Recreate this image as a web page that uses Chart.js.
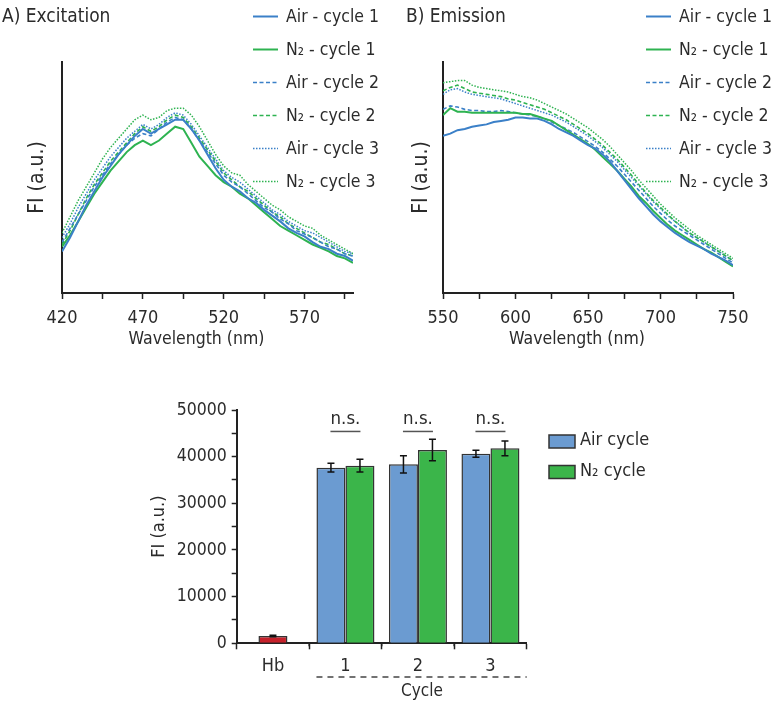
<!DOCTYPE html>
<html>
<head>
<meta charset="utf-8">
<title>Excitation / Emission / Cycle</title>
<script src="https://cdn.jsdelivr.net/npm/chart.js@4.4.0/dist/chart.umd.min.js"></script>
<style>
  body { margin: 0; background: #fff; }
  #wrap { position: relative; width: 774px; height: 708px; }
  canvas { position: absolute; }
  #exChart { left: 0; top: 0; }
  #emChart { left: 385px; top: 0; }
  #barChart { left: 140px; top: 380px; }
</style>
</head>
<body>
<div id="wrap">
  <canvas id="exChart" width="385" height="360"></canvas>
  <canvas id="emChart" width="389" height="360"></canvas>
  <canvas id="barChart" width="634" height="328"></canvas>
</div>
<script>
'use strict'

// Data - panel A (excitation), wavelength in nm, FI in arbitrary units

let exWave = [420, 425, 430, 435, 440, 445, 450, 455, 460, 465, 470, 475, 480, 485, 490, 495, 500, 505, 510,
  515, 520, 525, 530, 535, 540, 545, 550, 555, 560, 565, 570, 575, 580, 585, 590, 595, 600];
let exTicks = [420, 445, 470, 495, 520, 545, 570, 595];
let exLabels = [420, 470, 520, 570];

let exAir1 = [18, 24, 31, 38, 44, 50, 55, 60, 64, 68, 71, 69, 71, 73, 75, 75, 71, 66, 60,
  54, 49, 46, 44, 41, 39, 36, 33.5, 31, 28, 26, 24.5, 22, 20, 19, 17, 16, 14];
let exN2_1 = [20, 25, 31, 37, 43, 48, 53, 57, 61, 64, 66, 64, 66, 69, 72, 71, 65, 59, 55,
  51, 48, 46, 43, 41, 38, 35, 32, 29, 27, 25, 23, 21, 19.5, 18, 16, 15, 13];
let exAir2 = [22, 28, 34, 40, 46, 51, 56, 60, 64, 67, 69, 68, 71, 74, 76, 75, 71, 66, 61,
  56, 51, 48, 46, 43, 40, 37, 35, 32, 30, 27, 25.5, 24, 22, 20, 19, 17, 16];
let exN2_2 = [21, 27, 34, 41, 47, 52, 57, 61, 65, 69, 72, 70, 72, 75, 77, 76, 72, 67, 62,
  57, 52, 49, 46, 44, 41, 38, 35, 33, 30, 28, 26, 24, 22, 21, 19, 17, 16];
let exAir3 = [24, 30, 37, 43, 49, 54, 59, 63, 67, 70, 73, 71, 73, 76, 78, 77, 73, 68, 63,
  58, 53, 50, 48, 45, 42, 39, 36, 34, 31, 29, 27, 26, 24, 22, 20, 18, 17];
let exN2_3 = [26, 33, 40, 46, 52, 58, 63, 67, 71, 75, 77, 75, 76, 79, 80, 80, 77, 72, 66,
  60, 55, 52, 51, 47, 44, 41, 38, 36, 33, 31, 29, 28, 25, 23, 21, 19, 17];

// Data - panel B (emission)

let emWave = [550, 555, 560, 565, 570, 575, 580, 585, 590, 595, 600, 605, 610, 615, 620, 625, 630, 635, 640, 645,
  650, 655, 660, 665, 670, 675, 680, 685, 690, 695, 700, 705, 710, 715, 720, 725, 730, 735, 740, 745, 750];
let emTicks = [550, 575, 600, 625, 650, 675, 700, 725, 750];
let emLabels = [550, 600, 650, 700, 750];

let emAir1 = [68, 69, 70.5, 71, 72, 72.5, 73, 74, 74.5, 75, 76, 76, 75.5, 75.5, 74.5, 73, 71, 69.5, 68, 66,
  64, 62.5, 60, 57, 53, 49, 45, 41, 37.5, 34, 31, 28.5, 26, 24, 22, 20.5, 19, 17, 15.5, 14, 12];
let emN2_1 = [77, 80, 78.5, 78.5, 78, 78, 78, 78, 78, 78, 78, 77.5, 77.5, 76.5, 75.5, 74.5, 72.5, 70.5, 68.5, 66.5,
  64.5, 62, 59, 56, 53, 49.5, 46, 42, 39, 35.5, 32.5, 29.5, 27, 25, 23, 21, 19, 17.5, 15.5, 13.5, 11.5];
let emAir2 = [79.5, 81, 80.5, 79.5, 79, 79, 78.5, 78.5, 79, 78.5, 78, 77.5, 77, 76.5, 75.5, 74, 72.5, 71, 69.5, 67.5,
  65.5, 63.5, 61, 58, 55, 51.5, 48, 44.5, 41, 37.5, 34.5, 31.5, 29, 27, 25, 23, 21, 19, 17, 15, 13];
let emN2_2 = [87.5, 89, 90, 88.5, 87, 86.5, 86, 85.5, 85, 84, 83.5, 82.5, 81.5, 80.5, 79.5, 78, 76.5, 75, 73, 71,
  69, 66.5, 64, 61, 58, 54.5, 51, 47, 43.5, 40, 37, 34, 31, 28.5, 26, 24, 22, 20, 18, 16, 14];
let emAir3 = [86, 88, 88.5, 87, 86, 85.5, 85, 84.5, 84, 83, 82, 81, 80, 79, 78, 77, 75.5, 74, 72, 70,
  68, 65.5, 63, 60, 57, 53.5, 50, 46.5, 43, 39.5, 36.5, 33.5, 31, 28.5, 26, 24, 22, 20, 18, 16, 14];
let emN2_3 = [91, 91.5, 92, 92, 90, 89, 88.5, 88, 87.5, 87, 86, 85, 84.5, 83.5, 82, 80.5, 79, 77.5, 75.5, 73.5,
  71.5, 69, 66.5, 63.5, 60, 56.5, 53, 49, 45.5, 42, 38.5, 35.5, 32.5, 30, 27.5, 25, 23, 21, 19, 17, 15];

let seriesNames = ['Air - cycle 1', 'N\u2082 - cycle 1', 'Air - cycle 2', 'N\u2082 - cycle 2', 'Air - cycle 3', 'N\u2082 - cycle 3'];

// Data - panel C (bars, mean +/- error)

let barCats = ['Hb', '1', '2', '3'];
let hbValues = [1560, null, null, null];
let hbErrors = [150, null, null, null];
let airValues = [null, 37640, 38360, 40640];
let airErrors = [null, 930, 1860, 750];
let n2Values = [null, 38060, 41430, 41790];
let n2Errors = [null, 1360, 2320, 1570];
let barTicks = [0, 5000, 10000, 15000, 20000, 25000, 30000, 35000, 40000, 45000, 50000];
let nsCats = [1, 2, 3];

// Styles

const FONT = "'DejaVu Sans Condensed', 'Liberation Sans', sans-serif";
const TXT = '#2b2b2b';
const AX = '#222';
const BLUE = '#3b80c8';
const GREEN = '#2eb351';
let lineColors = [BLUE, GREEN, BLUE, GREEN, BLUE, GREEN];
let lineWidths = [2, 2, 1.6, 1.6, 1.5, 1.5];
let lineDashes = [[], [], [4, 2.5], [4, 2.5], [1.5, 1.5], [1.5, 1.5]];
let legendRows = [17.5, 50.5, 83.5, 116.5, 149.5, 182.5];

Chart.defaults.font.family = FONT;
Chart.defaults.color = TXT;

// Spectrum charts

const spectrumDecor = {
  id: 'spectrumDecor',
  afterDraw(chart, args, o) {
    const ctx = chart.ctx;
    const area = chart.chartArea;
    ctx.save();
    ctx.fillStyle = TXT;
    ctx.textBaseline = 'middle';
    ctx.font = '19px ' + FONT;
    ctx.fillText(o.title, o.titleX, 17);

    ctx.font = '17.5px ' + FONT;
    ctx.textAlign = 'center';
    ctx.fillText('Wavelength (nm)', (area.left + area.right) / 2 - 11, 339);

    ctx.textAlign = 'left';
    ctx.font = '17.5px ' + FONT;
    for (let i = 0; i < seriesNames.length; i++) {
      let y = legendRows[i];
      ctx.strokeStyle = lineColors[i];
      ctx.lineWidth = lineWidths[i];
      ctx.setLineDash(lineDashes[i]);
      ctx.beginPath();
      ctx.moveTo(o.legendX, y - 1);
      ctx.lineTo(o.legendX + 25, y - 1);
      ctx.stroke();
      ctx.setLineDash([]);
      ctx.fillText(seriesNames[i], o.legendX + 33, y);
    }
    ctx.restore();
  }
};

function makeSpectrum(canvasId, wave, series, ticks, labels, opts) {
  let datasets = series.map((vals, i) => ({
    label: seriesNames[i],
    data: vals.map((v, j) => ({ x: wave[j], y: v })),
    borderColor: lineColors[i],
    borderWidth: lineWidths[i],
    borderDash: lineDashes[i],
    pointRadius: 0,
    tension: 0,
    fill: false
  }));

  return new Chart(document.getElementById(canvasId), {
    type: 'line',
    data: { datasets: datasets },
    options: {
      responsive: false,
      animation: false,
      events: [],
      layout: { padding: { left: opts.padLeft, right: opts.padRight, top: 62, bottom: 0 } },
      plugins: {
        legend: { display: false },
        tooltip: { enabled: false },
        spectrumDecor: { title: opts.title, titleX: opts.titleX, legendX: opts.legendX }
      },
      scales: {
        x: {
          type: 'linear',
          min: wave[0],
          max: wave[wave.length - 1],
          afterBuildTicks: (s) => { s.ticks = ticks.map(v => ({ value: v })); },
          afterFit: (s) => { s.height = 67; },
          ticks: {
            autoSkip: false,
            maxRotation: 0,
            padding: 9,
            font: { size: 18 },
            callback: (v) => labels.includes(v) ? String(v) : ''
          },
          grid: { drawOnChartArea: false, tickLength: 6, tickColor: AX, tickWidth: 1.5 },
          border: { color: AX, width: 2 }
        },
        y: {
          min: 0,
          max: 100,
          afterFit: (s) => { s.width = opts.yWidth; },
          ticks: { display: false },
          grid: { display: false },
          border: { color: AX, width: 2 },
          title: { display: true, text: 'FI (a.u.)', font: { size: 21 }, padding: { top: 4, bottom: 0 } }
        }
      }
    },
    plugins: [spectrumDecor]
  });
}

makeSpectrum('exChart', exWave, [exAir1, exN2_1, exAir2, exN2_2, exAir3, exN2_3], exTicks, exLabels,
  { padLeft: 21, padRight: 32, yWidth: 41, title: 'A) Excitation', titleX: 2, legendX: 253 });

makeSpectrum('emChart', emWave, [emAir1, emN2_1, emAir2, emN2_2, emAir3, emN2_3], emTicks, emLabels,
  { padLeft: 20, padRight: 41, yWidth: 38, title: 'B) Emission', titleX: 21, legendX: 261 });

// Bar chart

let errSets = [hbErrors, airErrors, n2Errors];

const barDecor = {
  id: 'barDecor',
  afterDatasetsDraw(chart) {
    const ctx = chart.ctx;
    const y = chart.scales.y;
    ctx.save();
    ctx.strokeStyle = '#111';
    ctx.lineWidth = 1.5;
    chart.data.datasets.forEach((ds, d) => {
      let meta = chart.getDatasetMeta(d);
      ds.data.forEach((v, i) => {
        if (v === null) return;
        let e = errSets[d][i];
        let x = meta.data[i].x;
        let top = y.getPixelForValue(v + e);
        let bot = y.getPixelForValue(v - e);
        ctx.beginPath();
        ctx.moveTo(x, top); ctx.lineTo(x, bot);
        ctx.moveTo(x - 3.5, top); ctx.lineTo(x + 3.5, top);
        ctx.moveTo(x - 3.5, bot); ctx.lineTo(x + 3.5, bot);
        ctx.stroke();
      });
    });
    ctx.restore();
  },
  afterDraw(chart) {
    const ctx = chart.ctx;
    const x = chart.scales.x;
    const y = chart.scales.y;
    const area = chart.chartArea;
    ctx.save();

    // small ticks between categories
    ctx.strokeStyle = AX;
    ctx.lineWidth = 1.5;
    for (let k = 0; k < barCats.length - 1; k++) {
      let bx = (x.getPixelForValue(k) + x.getPixelForValue(k + 1)) / 2;
      ctx.beginPath();
      ctx.moveTo(bx, area.bottom);
      ctx.lineTo(bx, area.bottom + 3);
      ctx.stroke();
    }

    // n.s. marks
    ctx.fillStyle = TXT;
    ctx.font = '18.5px ' + FONT;
    ctx.textAlign = 'center';
    ctx.textBaseline = 'middle';
    ctx.strokeStyle = '#555';
    nsCats.forEach((c) => {
      let cx = x.getPixelForValue(c);
      ctx.fillText('n.s.', cx, y.getPixelForValue(48000));
      ctx.beginPath();
      ctx.moveTo(cx - 15, y.getPixelForValue(45400));
      ctx.lineTo(cx + 15, y.getPixelForValue(45400));
      ctx.stroke();
    });

    // dashed group line and Cycle label
    let half = (x.getPixelForValue(1) - x.getPixelForValue(0)) * 0.4;
    ctx.strokeStyle = '#444';
    ctx.setLineDash([6, 5]);
    ctx.beginPath();
    ctx.moveTo(x.getPixelForValue(1) - half, 297);
    ctx.lineTo(area.right, 297);
    ctx.stroke();
    ctx.setLineDash([]);
    ctx.font = '17px ' + FONT;
    ctx.fillText('Cycle', x.getPixelForValue(2) + 4, 312);

    // legend
    let items = [['Air cycle', '#6b9bd1'], ['N\u2082 cycle', '#3bb54a']];
    ctx.textAlign = 'left';
    ctx.font = '18px ' + FONT;
    items.forEach((it, i) => {
      let yy = 61.5 + i * 30.5;
      ctx.fillStyle = it[1];
      ctx.fillRect(409, yy - 6.5, 26, 13);
      ctx.strokeStyle = '#333';
      ctx.strokeRect(409, yy - 6.5, 26, 13);
      ctx.fillStyle = TXT;
      ctx.fillText(it[0], 440, yy - 1);
    });
    ctx.restore();
  }
};

new Chart(document.getElementById('barChart'), {
  type: 'bar',
  data: {
    labels: barCats,
    datasets: [
      { label: 'Hb', data: hbValues, backgroundColor: '#c6212b', borderColor: '#333', borderWidth: 1.5,
        barPercentage: 0.5, categoryPercentage: 0.8, skipNull: true },
      { label: 'Air cycle', data: airValues, backgroundColor: '#6b9bd1', borderColor: '#333', borderWidth: 1.5,
        barPercentage: 1, categoryPercentage: 0.8, skipNull: true },
      { label: 'N\u2082 cycle', data: n2Values, backgroundColor: '#3bb54a', borderColor: '#333', borderWidth: 1.5,
        barPercentage: 1, categoryPercentage: 0.8, skipNull: true }
    ]
  },
  options: {
    responsive: false,
    animation: false,
    events: [],
    layout: { padding: { left: 5, right: 247.3, top: 30, bottom: 0 } },
    plugins: { legend: { display: false }, tooltip: { enabled: false } },
    scales: {
      x: {
        afterFit: (s) => { s.height = 64.7; },
        ticks: { font: { size: 18 }, padding: 6 },
        grid: { drawOnChartArea: false, tickLength: 6, tickColor: AX, tickWidth: 1.5 },
        border: { color: AX, width: 2 }
      },
      y: {
        min: 0,
        max: 50000,
        afterBuildTicks: (s) => { s.ticks = barTicks.map(v => ({ value: v })); },
        afterFit: (s) => { s.width = 91.7; },
        ticks: {
          autoSkip: false,
          padding: 5,
          font: { size: 17.5 },
          callback: (v) => v % 10000 === 0 ? String(v) : ''
        },
        grid: { drawOnChartArea: false, tickLength: 5, tickColor: AX, tickWidth: 1.5 },
        border: { color: AX, width: 2 },
        title: { display: true, text: 'FI (a.u.)', font: { size: 18 }, padding: { top: 4, bottom: 0 } }
      }
    }
  },
  plugins: [barDecor]
});
</script>
</body>
</html>
